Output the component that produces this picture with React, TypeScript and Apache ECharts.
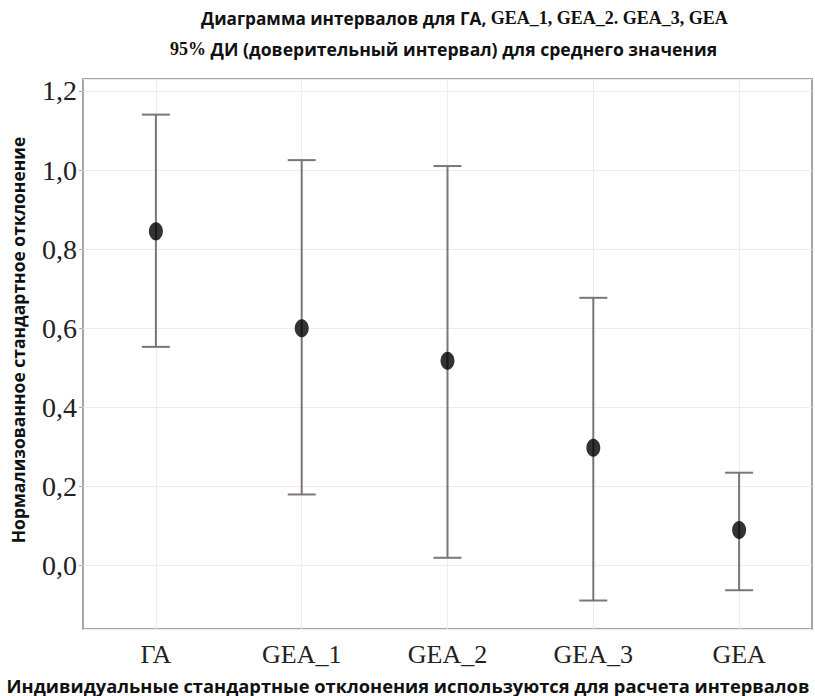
import React, { useEffect, useRef } from "react";
import * as echarts from "echarts";

const categories = ["ГА", "GEA_1", "GEA_2", "GEA_3", "GEA"];
const means = [0.845, 0.6, 0.518, 0.298, 0.09];
const upper = [1.14, 1.025, 1.01, 0.677, 0.235];
const lower = [0.553, 0.18, 0.02, -0.088, -0.062];

const titleLine1Sans = "Диаграмма интервалов для ГА, ";
const titleLine1Serif = "GEA_1, GEA_2. GEA_3, GEA";
const titleLine2Serif = "95%";
const titleLine2Sans = " ДИ (доверительный интервал) для среднего значения";
const yName = "Нормализованное стандартное отклонение";
const xName = "Индивидуальные стандартные отклонения используются для расчета интервалов";

export default function App() {
  const ref = useRef<HTMLDivElement>(null);
  useEffect(() => {
    if (!ref.current) return;
    const chart = echarts.init(ref.current, null, { renderer: "svg" });
    const sans = "'Open Sans', sans-serif";
    const serif = "'Liberation Serif', serif";
    const barData = categories.map((_, i) => [i, lower[i], upper[i]]);
    chart.setOption({
      animation: false,
      backgroundColor: "#ffffff",
      title: [
        {
          left: 196,
          top: 4,
          text: `{a|${titleLine1Sans}}{b|${titleLine1Serif}}`,
          textStyle: {
            rich: {
              a: { fontFamily: sans, fontWeight: "bold", fontSize: 17.2, color: "#111" },
              b: { fontFamily: serif, fontWeight: "bold", fontSize: 18, color: "#111" },
            },
          },
        },
        {
          left: 165,
          top: 35,
          text: `{b|${titleLine2Serif}}{a|${titleLine2Sans}}`,
          textStyle: {
            rich: {
              a: { fontFamily: sans, fontWeight: "bold", fontSize: 17.6, color: "#111" },
              b: { fontFamily: serif, fontWeight: "bold", fontSize: 18, color: "#111" },
            },
          },
        },
      ],
      graphic: [
        {
          type: "text",
          x: 18,
          y: 340,
          rotation: Math.PI / 2,
          style: {
            text: yName,
            fontFamily: sans,
            fontWeight: "bold",
            fontSize: 17.5,
            fill: "#111",
            align: "center",
            verticalAlign: "middle",
          },
        },
        {
          type: "text",
          x: 408,
          y: 685,
          style: {
            text: xName,
            fontFamily: sans,
            fontWeight: "bold",
            fontSize: 18.3,
            fill: "#111",
            align: "center",
            verticalAlign: "middle",
          },
        },
      ],
      grid: {
        left: 83,
        right: 3,
        top: 79,
        bottom: 67,
        containLabel: false,
        outerBoundsMode: "none",
        show: true,
        borderColor: "#a9a4a4",
        borderWidth: 2,
        backgroundColor: "#fff",
      },
      xAxis: {
        type: "category",
        data: categories,
        boundaryGap: true,
        axisLine: { show: false },
        axisTick: { show: true, alignWithLabel: true, length: 5, lineStyle: { color: "#aaa" } },
        axisLabel: { fontFamily: serif, fontSize: 26, color: "#222", margin: 12, lineHeight: 26 },
        splitLine: { show: false },
      },
      yAxis: {
        type: "value",
        min: -0.16,
        max: 1.23,
        splitNumber: 7,
        axisLine: { show: false },
        axisTick: { show: true, length: 4, lineStyle: { color: "#aaa" } },
        axisLabel: {
          fontFamily: serif,
          fontSize: 28,
          color: "#222",
          margin: 6,
          showMinLabel: false,
          showMaxLabel: false,
          formatter: (v: number) => v.toFixed(1).replace(".", ","),
        },
        splitLine: { show: true, lineStyle: { color: "#ececec", width: 1 } },
      },
      series: [
        {
          type: "custom",
          data: barData,
          encode: { x: 0, y: [1, 2] },
          renderItem: (params: any, api: any) => {
            const x = api.value(0);
            const lo = api.coord([x, api.value(1)]);
            const hi = api.coord([x, api.value(2)]);
            const half = 14;
            const style = { stroke: "#7d7575", lineWidth: 2 };
            return {
              type: "group",
              children: [
                { type: "line", shape: { x1: lo[0], y1: lo[1], x2: hi[0], y2: hi[1] }, style },
                { type: "line", shape: { x1: hi[0] - half, y1: hi[1], x2: hi[0] + half, y2: hi[1] }, style },
                { type: "line", shape: { x1: lo[0] - half, y1: lo[1], x2: lo[0] + half, y2: lo[1] }, style },
              ],
            };
          },
          z: 2,
        },
        {
          type: "scatter",
          data: means.map((m, i) => [i, m]),
          symbol: "circle",
          symbolSize: [14, 18],
          itemStyle: { color: "#000" },
          z: 3,
          markLine: {
            silent: true,
            symbol: "none",
            label: { show: false },
            lineStyle: { color: "#ececec", width: 1, type: "solid" },
            z: 1,
            data: categories.map((c) => ({ xAxis: c })),
          },
        },
      ],
    });
    return () => chart.dispose();
  }, []);
  return <div ref={ref} style={{ width: 815, height: 696, position: "absolute", left: 0, top: 0 }} />;
}
